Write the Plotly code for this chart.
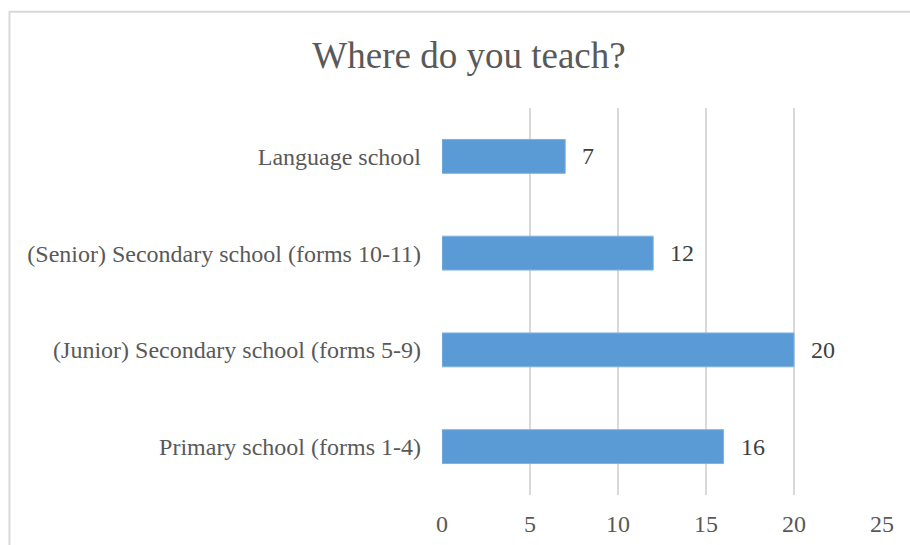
import plotly.graph_objects as go

# Survey answers: where respondents teach
categories = [
    "Primary school (forms 1-4)",
    "(Junior) Secondary school (forms 5-9)",
    "(Senior) Secondary school (forms 10-11)",
    "Language school",
]
counts = [16, 20, 12, 7]
x_ticks = [0, 5, 10, 15, 20, 25]

FONT = "Liberation Serif, Times New Roman, serif"
GRID = "#d9d9d9"
BAR = "#5b9bd5"

fig = go.Figure()
fig.add_trace(go.Bar(
    y=categories,
    x=counts,
    orientation="h",
    marker=dict(color=BAR, line=dict(color="#7fb2e0", width=1)),
    hoverinfo="x+y",
))

# value labels placed just past each bar's end
for cat, val in zip(categories, counts):
    fig.add_annotation(
        x=val, y=cat, xref="x", yref="y",
        text=str(val), showarrow=False,
        xanchor="left", yanchor="middle", xshift=15,
        font=dict(family=FONT, size=24, color="#404040"),
    )

# light chart-area frame (right and bottom edges fall outside the view)
fig.add_shape(
    type="rect", xref="paper", yref="paper",
    x0=-0.983, x1=1.3, y0=-0.6, y1=1.249,
    line=dict(color=GRID, width=2), fillcolor="rgba(0,0,0,0)",
    layer="below",
)

fig.update_layout(
    width=910, height=545,
    margin=dict(l=442, r=28, t=108, b=50),
    paper_bgcolor="white",
    plot_bgcolor="white",
    bargap=0.65,
    showlegend=False,
    title=dict(
        text="Where do you teach?",
        x=469 / 910, xref="container", xanchor="center",
        y=1 - 55 / 545, yref="container", yanchor="middle",
        font=dict(family=FONT, size=37, color="#595959"),
    ),
    font=dict(family=FONT, size=24, color="#595959"),
)

fig.update_xaxes(
    range=[0, 25],
    tickvals=x_ticks,
    ticktext=[str(t) for t in x_ticks],
    showgrid=True, gridcolor=GRID, gridwidth=2,
    zeroline=False, showline=False, ticks="",
    ticklabelstandoff=12,
    tickfont=dict(family=FONT, size=24, color="#595959"),
    automargin=False,
    fixedrange=True,
)
fig.update_yaxes(
    categoryorder="array", categoryarray=categories,
    showgrid=False, zeroline=False, showline=False, ticks="",
    ticklabelstandoff=20,
    tickfont=dict(family=FONT, size=24, color="#595959"),
    automargin=False,
    fixedrange=True,
)

fig.write_html("out.html")
